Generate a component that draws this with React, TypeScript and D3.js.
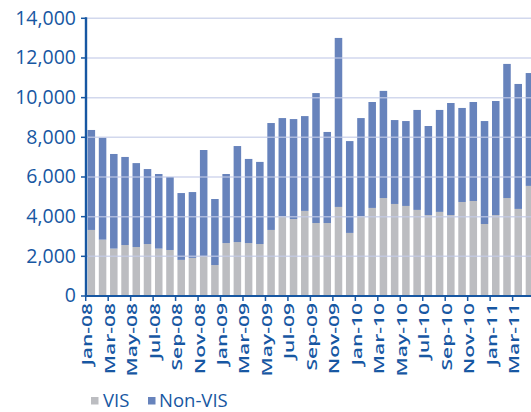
import * as d3 from "d3";

const MONTHS = [
  "Jan-08", "Feb-08", "Mar-08", "Apr-08", "May-08", "Jun-08", "Jul-08", "Aug-08", "Sep-08", "Oct-08", "Nov-08", "Dec-08",
  "Jan-09", "Feb-09", "Mar-09", "Apr-09", "May-09", "Jun-09", "Jul-09", "Aug-09", "Sep-09", "Oct-09", "Nov-09", "Dec-09",
  "Jan-10", "Feb-10", "Mar-10", "Apr-10", "May-10", "Jun-10", "Jul-10", "Aug-10", "Sep-10", "Oct-10", "Nov-10", "Dec-10",
  "Jan-11", "Feb-11", "Mar-11", "Apr-11",
];

const VIS = [
  3330, 2840, 2390, 2570, 2470, 2620, 2390, 2320, 1820, 1920, 2020, 1560,
  2670, 2720, 2670, 2620, 3330, 4030, 3880, 4290, 3680, 3680, 4490, 3180,
  4030, 4440, 4940, 4640, 4540, 4340, 4080, 4240, 4080, 4740, 4790, 3630,
  4080, 4940, 4390, 5550,
];

const NON_VIS = [
  5040, 5140, 4770, 4440, 4230, 3780, 3760, 3680, 3370, 3320, 5340, 3330,
  3480, 4840, 4240, 4140, 5390, 4940, 5040, 4780, 6550, 4590, 8520, 4630,
  4940, 5340, 5400, 4230, 4280, 5040, 4490, 5140, 5650, 4740, 4990, 5190,
  5750, 6760, 6300, 5690,
];

const Y_TICKS = [0, 2000, 4000, 6000, 8000, 10000, 12000, 14000];

const SERIES = [
  { key: "vis", label: "VIS", color: "#bcbdc1" },
  { key: "nonVis", label: "Non-VIS", color: "#6783bc" },
];

const W = 531;
const H = 412;
const BLUE = "#1757a2";
const FONT = "'Open Sans', sans-serif";

const rows = MONTHS.map((m, i) => ({ month: m, vis: VIS[i], nonVis: NON_VIS[i] }));

export default function App() {
  const x = d3.scaleBand<string>().domain(MONTHS).range([86, 86 + 40 * 11.22]).paddingInner(0.33).paddingOuter(0.14);
  const y = d3.scaleLinear().domain([0, 14000]).range([296, 18.3]);
  const stacked = d3.stack<any>().keys(SERIES.map((s) => s.key))(rows);
  const step = x.step();
  const tickX = (m: string) => (x(m) ?? 0) - (step - x.bandwidth()) / 2;

  return (
    <svg
      width={W}
      height={H}
      style={{ position: "absolute", left: 0, top: 0, background: "#fff", overflow: "hidden" }}
      fontFamily={FONT}
    >
      {/* bars */}
      {stacked.map((layer, si) => (
        <g key={layer.key} fill={SERIES[si].color}>
          {layer.map((d: any) => (
            <rect
              key={d.data.month}
              x={x(d.data.month)}
              width={x.bandwidth()}
              y={y(d[1])}
              height={y(d[0]) - y(d[1])}
            />
          ))}
        </g>
      ))}

      {/* grid */}
      {Y_TICKS.filter((t) => t > 0).map((t) => (
        <line key={t} x1={86} x2={W} y1={y(t)} y2={y(t)} stroke="#c3cbe8" strokeWidth={1.5} opacity={0.75} />
      ))}

      {/* y axis */}
      <line x1={86} x2={86} y1={y(14000) - 1} y2={y(0) + 1} stroke={BLUE} strokeWidth={2.4} />
      {Y_TICKS.map((t) => (
        <g key={t} transform={`translate(0,${y(t)})`}>
          <line x1={81} x2={86} stroke={BLUE} strokeWidth={1.5} />
          <text x={76} dy="0.33em" textAnchor="end" fontSize={19.5} fill={BLUE}>
            {d3.format(",")(t)}
          </text>
        </g>
      ))}

      {/* x axis */}
      <line x1={85} x2={W} y1={y(0)} y2={y(0)} stroke={BLUE} strokeWidth={2.2} />
      {MONTHS.filter((_, i) => i % 2 === 0).map((m) => (
        <g key={m} transform={`translate(${tickX(m)},0)`}>
          <line y1={296} y2={301} stroke={BLUE} strokeWidth={1.5} />
          <text
            transform={`translate(6.5,303) rotate(-90) scale(1.5,1)`}
            textAnchor="end"
            fontSize={14}
            fontWeight={600}
            fill={BLUE}
          >
            {m}
          </text>
        </g>
      ))}

      {/* legend */}
      <g transform="translate(91,397)">
        <rect width={7.5} height={7.5} fill={SERIES[0].color} />
        <text x={12} y={10} fontSize={18.5} fill={BLUE}>{SERIES[0].label}</text>
        <rect x={57} width={7.5} height={7.5} fill={SERIES[1].color} />
        <text x={68} y={10} fontSize={18.5} fill={BLUE}>{SERIES[1].label}</text>
      </g>
    </svg>
  );
}
